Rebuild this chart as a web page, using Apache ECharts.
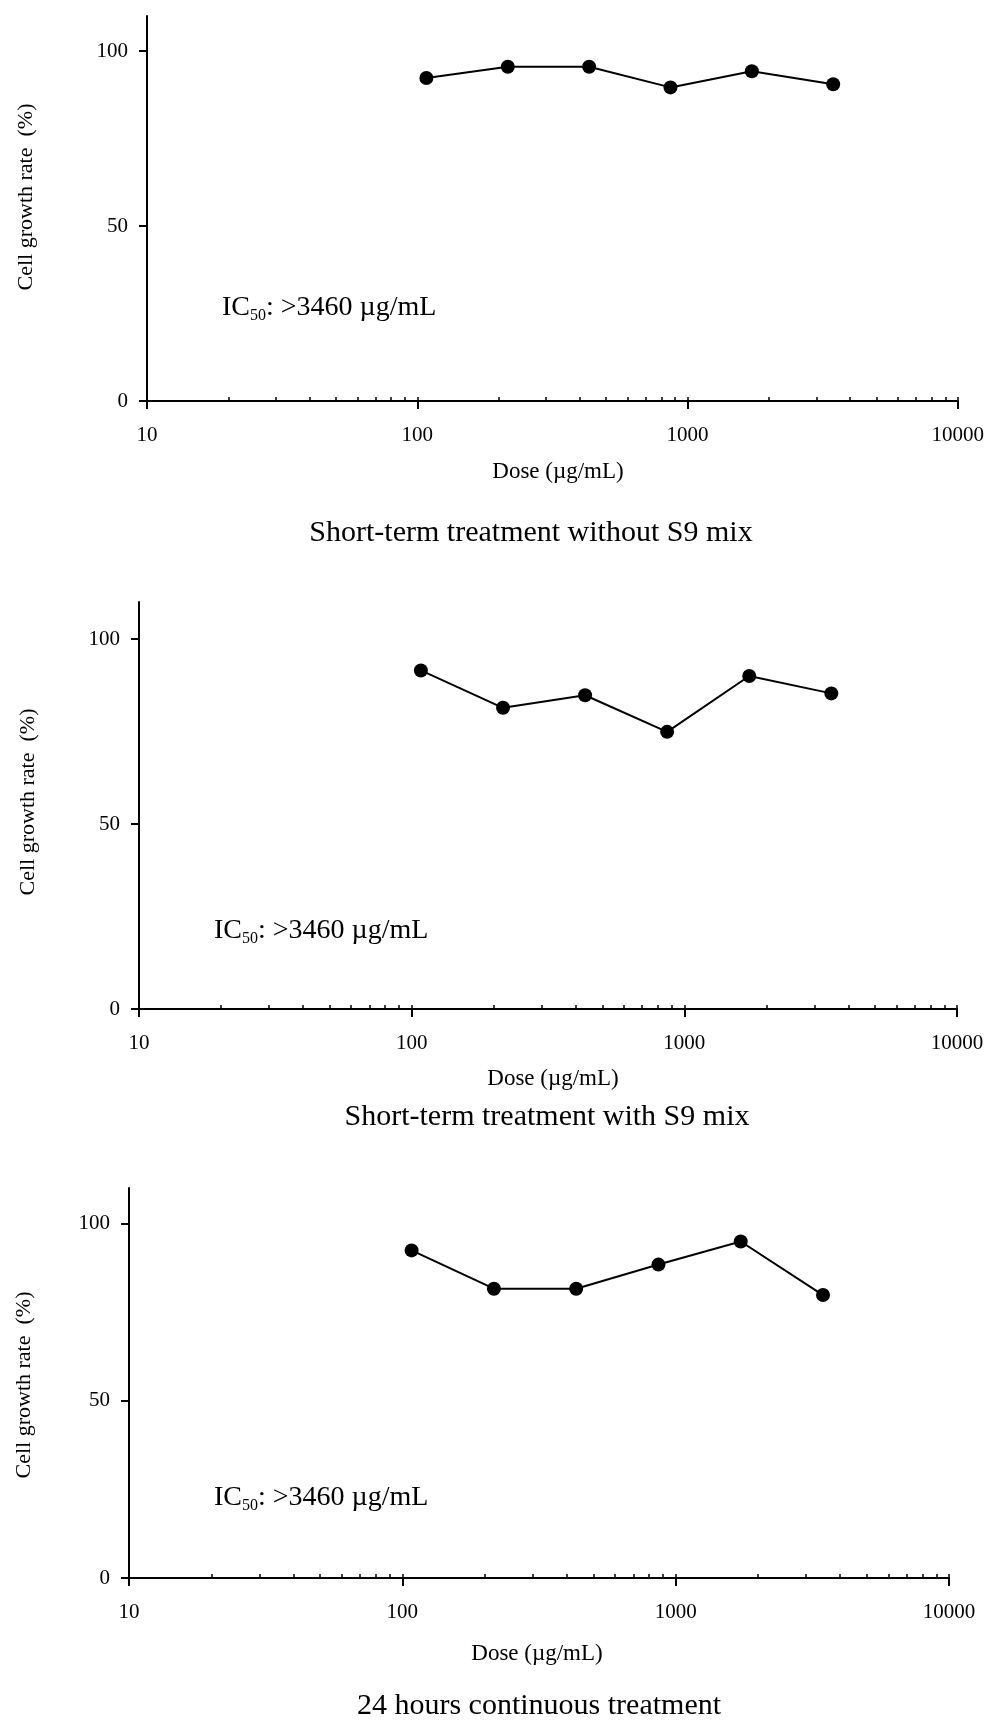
<!DOCTYPE html>
<html>
<head>
<meta charset="utf-8">
<script src="https://cdn.jsdelivr.net/npm/echarts@6/dist/echarts.min.js"></script>
<style>
  html, body { margin: 0; padding: 0; background: #fff; }
  #chart { width: 987px; height: 1720px; }
</style>
</head>
<body>
<div id="chart"></div>
<script>
// doses (µg/mL), twofold dilution from 3460
const doses = [108.1, 216.3, 432.5, 865, 1730, 3460];

// cell growth rate (%)
const withoutS9 = [92.3, 95.5, 95.5, 89.6, 94.2, 90.5];
const withS9 = [91.5, 81.4, 84.8, 74.9, 90.0, 85.3];
const continuous24h = [92.4, 81.6, 81.6, 88.4, 94.9, 79.8];

const panelTitles = [
  'Short-term treatment without S9 mix',
  'Short-term treatment with S9 mix',
  '24 hours continuous treatment',
];
const xMajorTicks = [10, 100, 1000, 10000];
const xAllTicks = [
  10, 20, 30, 40, 50, 60, 70, 80, 90,
  100, 200, 300, 400, 500, 600, 700, 800, 900,
  1000, 2000, 3000, 4000, 5000, 6000, 7000, 8000, 9000, 10000,
];
const yTicks = [0, 50, 100];
const yName = 'Cell growth rate  (%)';
const xName = 'Dose (µg/mL)';
const icValue = ': >3460 µg/mL';

const FONT = '"Liberation Serif", "Times New Roman", serif';
const BLACK = '#000';

// layout per panel (pixels)
const panels = [
  {
    values: withoutS9,
    grid: { left: 147, right: 29, top: 16, height: 385 },
    yNamePos: [26, 197], xNamePos: [558, 472], icPos: [222, 308], titlePos: [531, 533],
  },
  {
    values: withS9,
    grid: { left: 139, right: 30, top: 602, height: 407 },
    yNamePos: [28, 802], xNamePos: [553, 1079], icPos: [214, 931], titlePos: [547, 1117],
  },
  {
    values: continuous24h,
    grid: { left: 129, right: 38, top: 1188, height: 390 },
    yNamePos: [24, 1385], xNamePos: [537, 1654], icPos: [214, 1498], titlePos: [539, 1706],
  },
];

const grids = [];
const xAxes = [];
const yAxes = [];
const series = [];
const graphics = [];

panels.forEach((p, i) => {
  grids.push({ ...p.grid, containLabel: false });

  // major ticks (below the line) + labels
  xAxes.push({
    type: 'log',
    logBase: 10,
    gridIndex: i,
    position: 'bottom',
    min: 10,
    max: 10000,
    axisLine: { onZero: false, lineStyle: { color: BLACK, width: 2 } },
    axisTick: {
      show: true,
      inside: false,
      length: 8,
      customValues: xMajorTicks,
      lineStyle: { color: BLACK, width: 2 },
    },
    axisLabel: {
      color: BLACK,
      fontFamily: FONT,
      fontSize: 21,
      margin: 24,
      customValues: xMajorTicks,
      formatter: v => String(Math.round(v)),
    },
    splitLine: { show: false },
    minorTick: { show: false },
  });
  // small inside ticks
  xAxes.push({
    type: 'log',
    logBase: 10,
    gridIndex: i,
    position: 'bottom',
    min: 10,
    max: 10000,
    axisLine: { show: false, onZero: false },
    axisTick: {
      show: true,
      inside: true,
      length: 4,
      customValues: xAllTicks,
      lineStyle: { color: BLACK, width: 1.5 },
    },
    axisLabel: { show: false },
    splitLine: { show: false },
  });

  yAxes.push({
    type: 'value',
    gridIndex: i,
    min: 0,
    max: 110,
    axisLine: { show: true, onZero: false, lineStyle: { color: BLACK, width: 2 } },
    axisTick: {
      show: true,
      length: 8,
      customValues: yTicks,
      lineStyle: { color: BLACK, width: 2 },
    },
    axisLabel: {
      color: BLACK,
      fontFamily: FONT,
      fontSize: 21,
      margin: 19,
      customValues: yTicks,
    },
    splitLine: { show: false },
  });

  series.push({
    type: 'line',
    xAxisIndex: i * 2,
    yAxisIndex: i,
    data: doses.map((d, k) => [d, p.values[k]]),
    symbol: 'circle',
    symbolSize: 14,
    itemStyle: { color: BLACK },
    lineStyle: { color: BLACK, width: 2 },
    animation: false,
  });

  graphics.push(
    {
      type: 'text',
      x: p.yNamePos[0],
      y: p.yNamePos[1],
      rotation: Math.PI / 2,
      style: {
        text: yName,
        fontFamily: FONT,
        fontSize: 22,
        fill: BLACK,
        align: 'center',
        verticalAlign: 'middle',
      },
    },
    {
      type: 'text',
      x: p.xNamePos[0],
      y: p.xNamePos[1],
      style: {
        text: xName,
        fontFamily: FONT,
        fontSize: 23,
        fill: BLACK,
        align: 'center',
        verticalAlign: 'middle',
      },
    },
    {
      type: 'text',
      x: p.icPos[0],
      y: p.icPos[1],
      style: {
        text: '{a|IC}{b|50}{a|' + icValue + '}',
        align: 'left',
        verticalAlign: 'middle',
        rich: {
          a: { fontFamily: FONT, fontSize: 28, fill: BLACK, lineHeight: 32 },
          b: { fontFamily: FONT, fontSize: 16, fill: BLACK, lineHeight: 17, verticalAlign: 'bottom' },
        },
      },
    },
    {
      type: 'text',
      x: p.titlePos[0],
      y: p.titlePos[1],
      style: {
        text: panelTitles[i],
        fontFamily: FONT,
        fontSize: 30,
        fill: BLACK,
        align: 'center',
        verticalAlign: 'middle',
      },
    }
  );
});

const chart = echarts.init(document.getElementById('chart'), null, { renderer: 'canvas' });
chart.setOption({
  backgroundColor: '#fff',
  animation: false,
  grid: grids,
  xAxis: xAxes,
  yAxis: yAxes,
  series: series,
  graphic: graphics,
});
</script>
</body>
</html>
